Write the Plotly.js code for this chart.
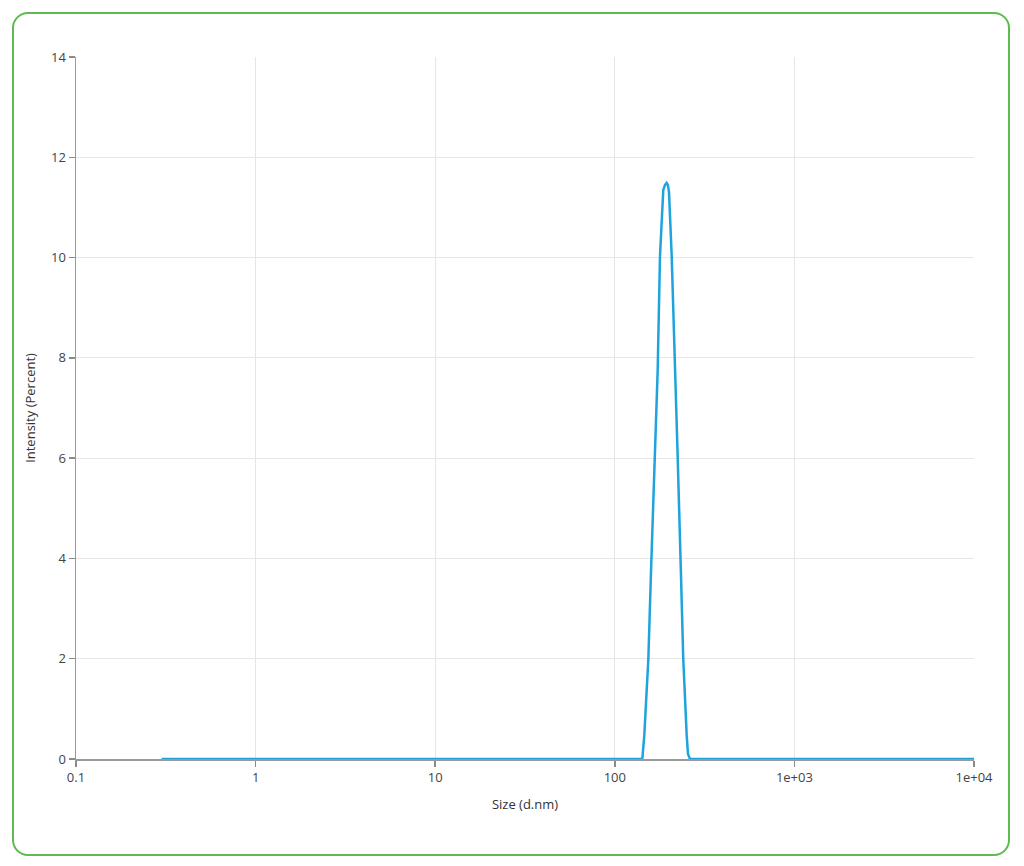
<!DOCTYPE html>
<html>
<head>
<meta charset="utf-8">
<script src="https://cdn.plot.ly/plotly-3.0.1.min.js"></script>
<style>
  html, body { margin: 0; padding: 0; width: 1024px; height: 866px; background: #fff; overflow: hidden; }
  #frame { position: absolute; left: 12px; top: 12px; width: 994px; height: 840px; border: 2px solid #5dbb50; border-radius: 16px; }
  #chart { position: absolute; left: 0; top: 0; width: 1024px; height: 866px; }
</style>
</head>
<body>
<div id="frame"></div>
<div id="chart"></div>
<script>
// Size (d.nm) and Intensity (Percent)
const sizes = [0.3, 1, 10, 100, 142.3, 146.0, 151.1, 153.7, 159.5, 167.4, 173.3, 178.5, 182.5, 186.2, 190.5, 194.5,
               197.5, 200.4, 207.4, 216.3, 224.0, 232.8, 240.6, 251.3, 255.5, 262.2, 1000, 10000];
const intensity = [0, 0, 0, 0, 0, 0.48, 1.48, 1.99, 3.87, 6.0, 7.76, 10.03, 10.9, 11.35, 11.45, 11.49,
                   11.45, 11.3, 10.03, 8.01, 6.0, 3.87, 1.99, 0.48, 0.1, 0, 0, 0];
const xTickVals = [0.1, 1, 10, 100, 1000, 10000];
const xTickText = ['0.1', '1', '10', '100', '1e+03', '1e+04'];
const yTickVals = [0, 2, 4, 6, 8, 10, 12, 14];

const fontFam = '"Open Sans", "Noto Sans", sans-serif';

Plotly.newPlot('chart', [{
  x: sizes,
  y: intensity,
  type: 'scatter',
  mode: 'lines',
  line: { color: '#1ea3dc', width: 2.5 },
  hoverinfo: 'x+y',
  showlegend: false
}], {
  width: 1024,
  height: 866,
  margin: { l: 76, r: 50, t: 57, b: 107 },
  paper_bgcolor: 'rgba(0,0,0,0)',
  plot_bgcolor: '#ffffff',
  font: { family: fontFam, size: 13, color: '#444' },
  xaxis: {
    type: 'log',
    range: [-1, 4],
    tickvals: xTickVals,
    ticktext: xTickText,
    ticks: 'outside',
    ticklen: 6,
    tickwidth: 1.5,
    tickcolor: '#8a8a8a',
    showline: true,
    linecolor: '#9a9a9a',
    linewidth: 1.5,
    showgrid: true,
    gridcolor: '#e6e6e6',
    gridwidth: 1,
    zeroline: false,
    tickfont: { family: fontFam, size: 13, color: '#444' },
    title: { text: 'Size (d.nm)', font: { family: fontFam, size: 13, color: '#333' }, standoff: 15 }
  },
  yaxis: {
    range: [0, 14],
    tickvals: yTickVals,
    ticks: 'outside',
    ticklen: 6,
    tickwidth: 1.5,
    tickcolor: '#8a8a8a',
    showline: true,
    linecolor: '#9a9a9a',
    linewidth: 1.5,
    showgrid: true,
    gridcolor: '#e6e6e6',
    gridwidth: 1,
    zeroline: false,
    tickfont: { family: fontFam, size: 13, color: '#444' },
    title: { text: 'Intensity (Percent)', font: { family: fontFam, size: 13, color: '#333' }, standoff: 12 }
  }
}, { displayModeBar: false, staticPlot: true });
</script>
</body>
</html>
